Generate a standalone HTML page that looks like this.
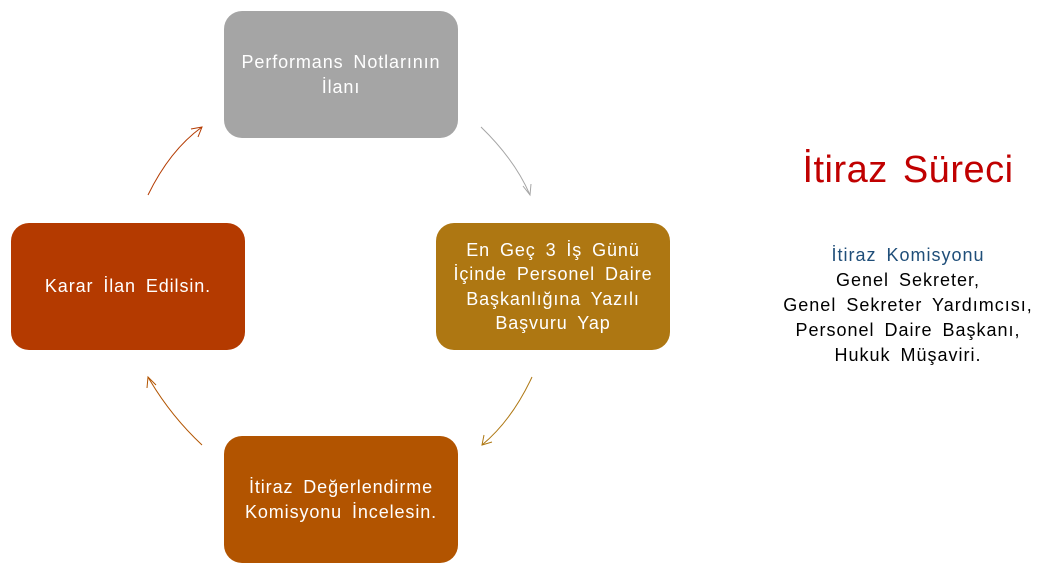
<!DOCTYPE html>
<html><head><meta charset="utf-8"><style>
body{margin:0;width:1056px;height:576px;background:#fff;position:relative;overflow:hidden;font-family:"Liberation Sans","DejaVu Sans",sans-serif}
.b{position:absolute;width:234px;height:127px;border-radius:18px;color:#fff;display:flex;align-items:center;justify-content:center;text-align:center;font-size:18px;letter-spacing:0.9px;word-spacing:4px;line-height:24.5px;box-sizing:border-box;padding:0 2px;white-space:nowrap}
.t{position:absolute;text-align:center;left:740px;width:336px}
</style></head><body>
<div class="b" style="left:224px;top:11px;background:#a5a5a5">Performans Notlarının<br>İlanı</div>
<div class="b" style="left:436px;top:223px;background:#ae7712">En Geç 3 İş Günü<br>İçinde Personel Daire<br>Başkanlığına Yazılı<br>Başvuru Yap</div>
<div class="b" style="left:11px;top:223px;background:#b43a00">Karar İlan Edilsin.</div>
<div class="b" style="left:224px;top:436px;background:#b25400">İtiraz Değerlendirme<br>Komisyonu İncelesin.</div>
<svg width="1056" height="576" style="position:absolute;left:0;top:0" fill="none" stroke-width="1">
<path d="M481,127 Q515,160 530,195" stroke="#a5a5a5"/><path d="M523,186 L530,195 L531,184" stroke="#a5a5a5"/>
<path d="M532,377 Q512,420 482,445" stroke="#ae7712"/><path d="M484,435 L482,445 L492,442" stroke="#ae7712"/>
<path d="M202,445 Q170,415 148,377" stroke="#b25400"/><path d="M147,388 L148,377 L156,385" stroke="#b25400"/>
<path d="M148,195 Q170,150 202,127" stroke="#b43a00"/><path d="M191,129 L202,127 L198,137" stroke="#b43a00"/>
</svg>
<div class="t" style="top:146px;font-size:38px;letter-spacing:0.5px;word-spacing:4px;color:#c00000;line-height:48px">İtiraz Süreci</div>
<div class="t" style="top:243px;font-size:18px;letter-spacing:1px;word-spacing:4px;line-height:25px;color:#000"><span style="color:#1f4e79">İtiraz Komisyonu</span><br>Genel Sekreter,<br>Genel Sekreter Yardımcısı,<br>Personel Daire Başkanı,<br>Hukuk Müşaviri.</div>
</body></html>
